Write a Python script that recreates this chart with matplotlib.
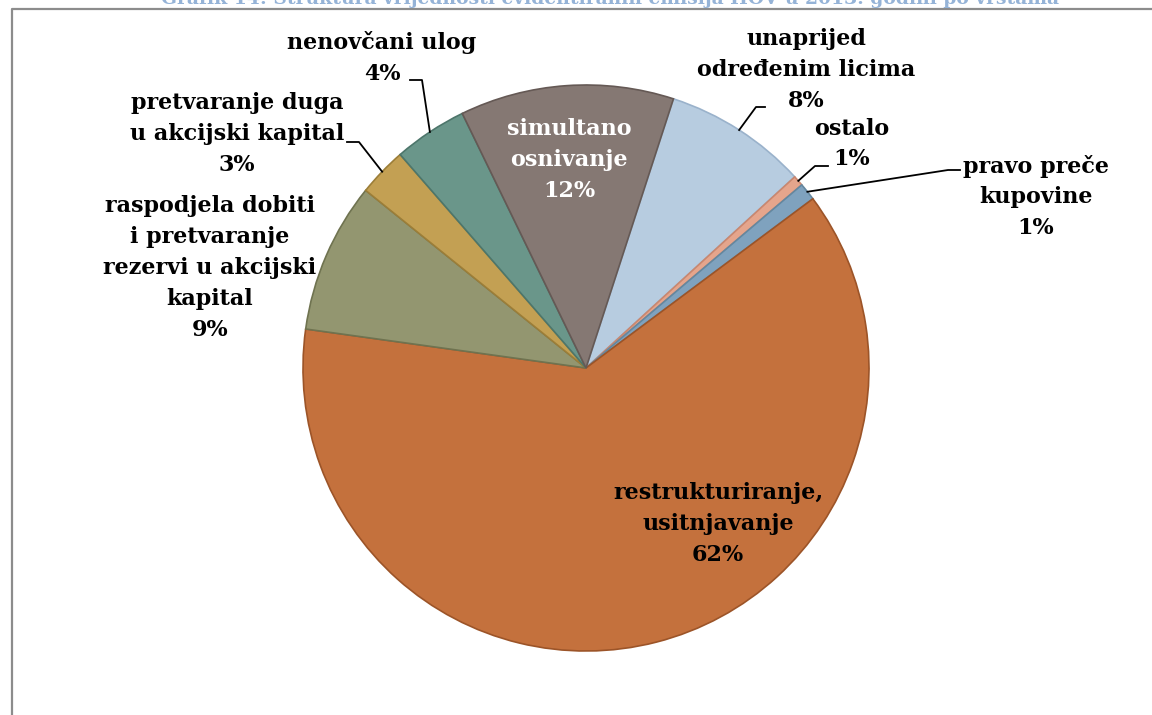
import matplotlib
matplotlib.use("Agg")
import matplotlib.pyplot as plt
import numpy as np

# data (clockwise from the top)
categories = ["unaprijed\nodređenim licima", "ostalo", "pravo preče\nkupovine",
              "restrukturiranje,\nusitnjavanje",
              "raspodjela dobiti\ni pretvaranje\nrezervi u akcijski\nkapital",
              "pretvaranje duga\nu akcijski kapital", "nenovčani ulog",
              "simultano\nosnivanje"]
shares = [8.2, 0.6, 1.0, 62.4, 8.6, 2.8, 4.2, 12.2]
colors = ["#B7CCE0", "#E5A58C", "#7FA2BE", "#C4713D",
          "#939670", "#C3A053", "#6A968A", "#857873"]
edges = ["#9AB2CB", "#C9876F", "#64879F", "#9C5428",
         "#6F7350", "#9C7E38", "#4D766B", "#655955"]
title = "Grafik 14: Struktura vrijednosti evidentiranih emisija HOV u 2013. godini po vrstama"

W, H = 1152, 715
fig = plt.figure(figsize=(W / 100, H / 100), dpi=100)
ax = fig.add_axes([0, 0, 1, 1])

font = dict(family="DejaVu Serif", fontweight="bold", fontsize=16)

# frame (runs past the right and bottom edge)
ax.plot([12, 12, W + 5], [-5, H - 9, H - 9], color="#8C8C8C", lw=1.6)

# title, cut off at the top as in the source
ax.text(610, H - 4, title, ha="center", va="baseline", color="#95B3D7",
        family="DejaVu Serif", fontweight="bold", fontsize=13.5)

cx, cy, r = 586, H - 368, 283
wedges, _ = ax.pie(shares, colors=colors, startangle=72, counterclock=False,
                   center=(cx, cy), radius=r, frame=True,
                   wedgeprops=dict(linewidth=1.2))
for w, ec in zip(wedges, edges):
    w.set_edgecolor(ec)
ax.set_xlim(0, W)
ax.set_ylim(0, H)
ax.axis("off")

labels = [f"{c}\n{round(s):d}%" for c, s in zip(categories, shares)]

# label centres in pixel coords (y from top), text colour, leader elbow points
label_pos = [(806, 70), (852, 144), (1036, 197), (718, 524),
             (210, 268), (237, 134), (382, 58), (569, 160)]
text_col = ["black"] * 7 + ["white"]
leaders = {0: [(756, 107), (765, 107)],
           1: [(815, 166), (828, 166)],
           2: [(948, 170), (960, 170)],
           5: [(359, 142), (347, 142)],
           6: [(422, 80), (410, 80)]}

for i, (lab, (x, y)) in enumerate(zip(labels, label_pos)):
    ax.text(x, H - y, lab, ha="center", va="center", multialignment="center",
            color=text_col[i], linespacing=1.52, **font)
    if i in leaders:
        w = wedges[i]
        mid = np.deg2rad((w.theta1 + w.theta2) / 2)
        px = [cx + r * np.cos(mid)] + [p[0] for p in leaders[i]]
        py = [cy + r * np.sin(mid)] + [H - p[1] for p in leaders[i]]
        ax.plot(px, py, color="black", lw=1.3)

fig.savefig("out.png", dpi=100)
